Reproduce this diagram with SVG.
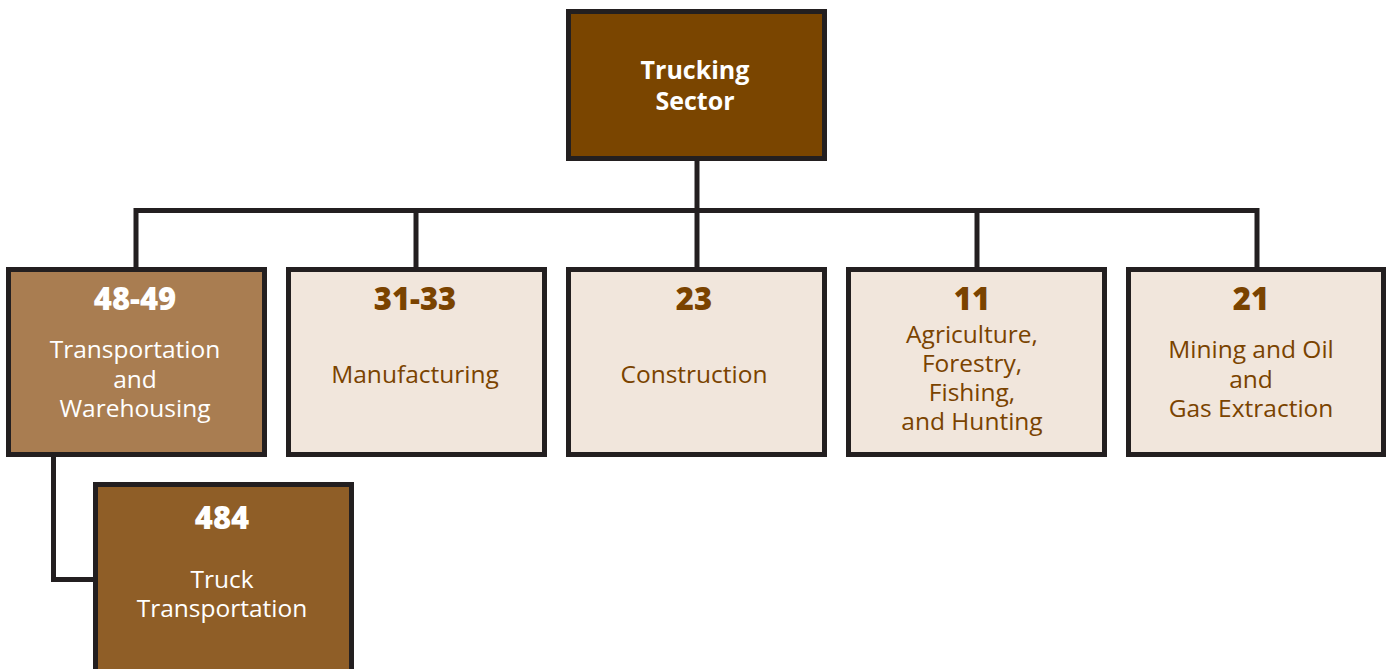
<svg xmlns="http://www.w3.org/2000/svg" width="1386" height="669" viewBox="0 0 1386 669">
  <style>
    .box { stroke: #231f20; stroke-width: 5; }
    .root { fill: #7a4500; }
    .mid { fill: #a97d51; }
    .sub { fill: #8f5e27; }
    .light { fill: #f1e6dc; }
    .num { font-family: "Open Sans", "Noto Sans", sans-serif; font-weight: 800; font-size: 31px; text-anchor: middle; }
    .lbl { font-family: "Open Sans", "Noto Sans", sans-serif; font-size: 24.5px; text-anchor: middle; }
    .head { font-family: "Open Sans", "Noto Sans", sans-serif; font-weight: 700; font-size: 25px; text-anchor: middle; fill: #ffffff; }
    .w { fill: #ffffff; }
    .b { fill: #7a4300; }
    .conn { fill: none; stroke: #231f20; stroke-width: 5; }
  </style>

  <g id="connectors">
    <line class="conn" x1="697" y1="160" x2="697" y2="269"/>
    <polyline class="conn" points="136,269 136,210.5 1257,210.5 1257,269"/>
    <line class="conn" x1="416" y1="210" x2="416" y2="269"/>
    <line class="conn" x1="977" y1="210" x2="977" y2="269"/>
    <polyline class="conn" points="53.5,455 53.5,579.5 96,579.5"/>
  </g>

  <g id="trucking-sector">
    <rect class="box root" x="568.5" y="11.5" width="256" height="147"/>
    <text class="head" x="695" y="79">Trucking</text>
    <text class="head" x="695" y="110">Sector</text>
  </g>

  <g id="n48-49">
    <rect class="box mid" x="8.5" y="269.5" width="256" height="185"/>
    <text class="num w" x="135" y="310">48-49</text>
    <text class="lbl w" x="135" y="358">Transportation</text>
    <text class="lbl w" x="135" y="388">and</text>
    <text class="lbl w" x="135" y="417">Warehousing</text>
  </g>

  <g id="n31-33">
    <rect class="box light" x="288.5" y="269.5" width="256" height="185"/>
    <text class="num b" x="415" y="310">31-33</text>
    <text class="lbl b" x="415" y="383">Manufacturing</text>
  </g>

  <g id="n23">
    <rect class="box light" x="568.5" y="269.5" width="256" height="185"/>
    <text class="num b" x="694" y="310">23</text>
    <text class="lbl b" x="694" y="383">Construction</text>
  </g>

  <g id="n11">
    <rect class="box light" x="848.5" y="269.5" width="256" height="185"/>
    <text class="num b" x="972" y="310">11</text>
    <text class="lbl b" x="972" y="343">Agriculture,</text>
    <text class="lbl b" x="972" y="372">Forestry,</text>
    <text class="lbl b" x="972" y="401">Fishing,</text>
    <text class="lbl b" x="972" y="430">and Hunting</text>
  </g>

  <g id="n21">
    <rect class="box light" x="1128.5" y="269.5" width="255" height="185"/>
    <text class="num b" x="1251" y="310">21</text>
    <text class="lbl b" x="1251" y="358">Mining and Oil</text>
    <text class="lbl b" x="1251" y="388">and</text>
    <text class="lbl b" x="1251" y="417">Gas Extraction</text>
  </g>

  <g id="n484">
    <rect class="box sub" x="95.5" y="484.5" width="256" height="190"/>
    <text class="num w" x="222" y="529">484</text>
    <text class="lbl w" x="222" y="588">Truck</text>
    <text class="lbl w" x="222" y="617">Transportation</text>
  </g>
</svg>
